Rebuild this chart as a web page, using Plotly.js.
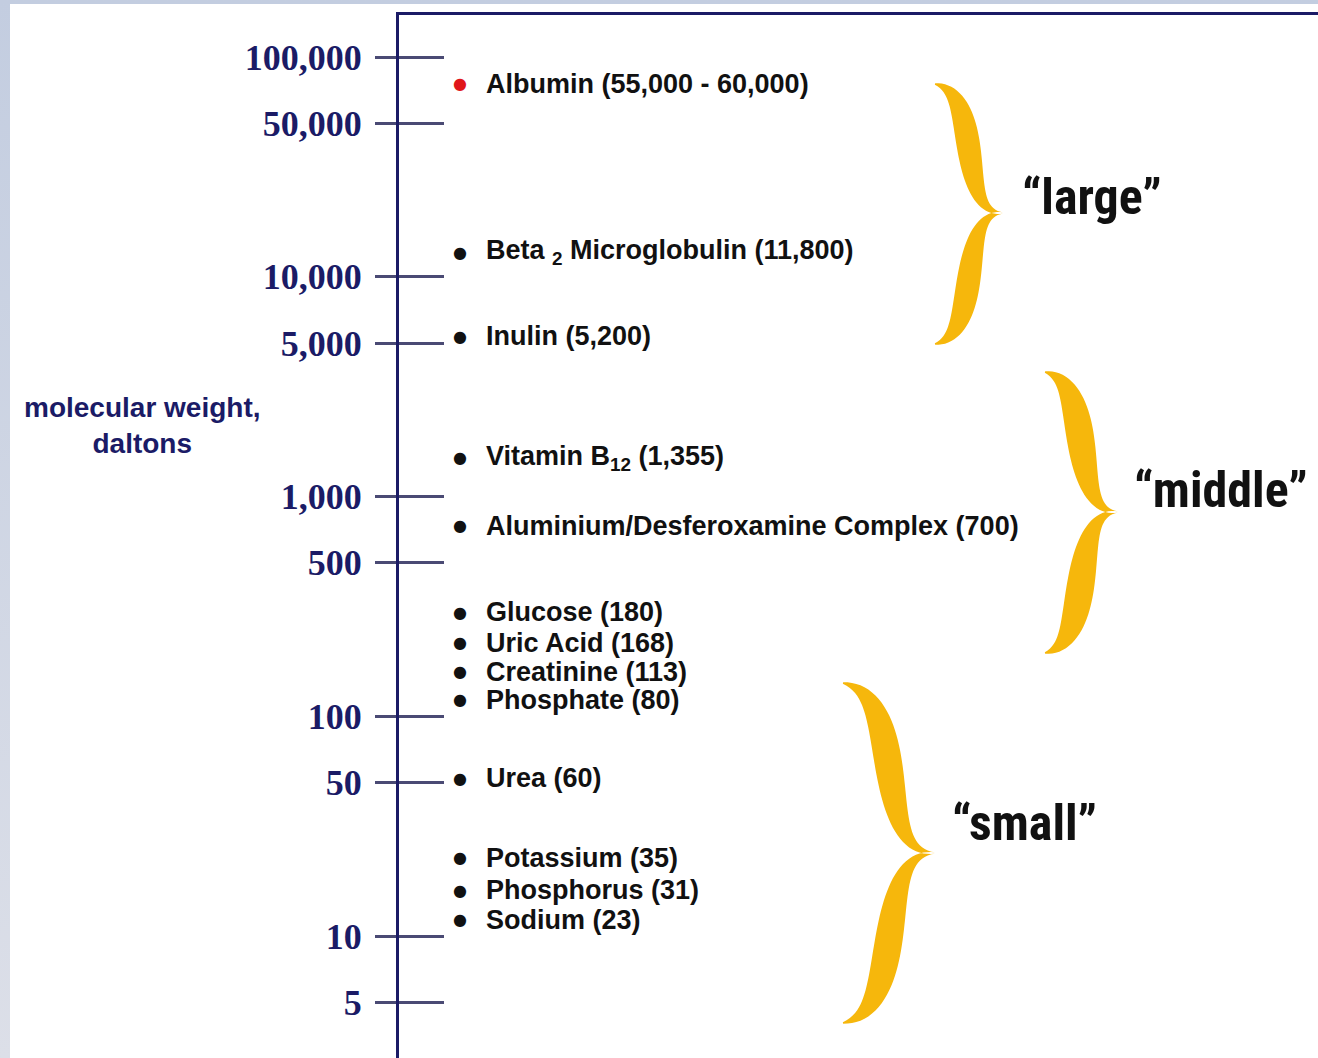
<!DOCTYPE html>
<html>
<head>
<meta charset="utf-8">
<script src="https://cdn.plot.ly/plotly-3.0.1.min.js"></script>
<style>
  html, body { margin:0; padding:0; width:1318px; height:1058px; overflow:hidden;
    background: linear-gradient(#c3cde0, #dcdfe8); }
  #chart { position:absolute; left:10px; top:4px; width:1308px; height:1054px; background:#fff; }
</style>
</head>
<body>
<div id="chart"></div>
<script>
// ---- data ----
const substances = [
  'Albumin (55,000 - 60,000)',
  'Beta <sub>2</sub> Microglobulin (11,800)',
  'Inulin (5,200)',
  'Vitamin B<sub>12</sub> (1,355)',
  'Aluminium/Desferoxamine Complex (700)',
  'Glucose (180)',
  'Uric Acid (168)',
  'Creatinine (113)',
  'Phosphate (80)',
  'Urea (60)',
  'Potassium (35)',
  'Phosphorus (31)',
  'Sodium (23)'
];
const molWeight = [57500, 11800, 5200, 1355, 700, 180, 168, 113, 80, 60, 35, 31, 23];
const tickValues = [5, 10, 50, 100, 500, 1000, 5000, 10000, 50000, 100000];
const tickLabels = ['5', '10', '50', '100', '500', '1,000', '5,000', '10,000', '50,000', '100,000'];
const groupNames = ['\u201Clarge\u201D', '\u201Cmiddle\u201D', '\u201Csmall\u201D'];
const axisTitle = 'molecular weight,<br>daltons';

// ---- style ----
const NAVY = '#1b1b66';
const TICK = '#4a4a74';
const GOLD = '#f6b70c';
const dotColors = ['#e0161a','#111','#111','#111','#111','#111','#111','#111','#111','#111','#111','#111','#111'];
const labelShift = [26, 9, 3, 10, 5, 48, 24, 33, 38, -13, -41, -62, -63]; // px, list spacing as in the slide
const DOT_X = 0.0664, LABEL_X = 0.0925;
const yRange = [0.4467, 5.1911];

// page pixel -> paper helpers for decorations
const PL = 399, PW = 919, PB = 1058, PH = 1043;
const px = x => (x - PL) / PW;
const py = y => (PB - y) / PH;

function bez(p0, p1, p2, p3, t) {
  const u = 1 - t;
  return [u*u*u*p0[0] + 3*u*u*t*p1[0] + 3*u*t*t*p2[0] + t*t*t*p3[0],
          u*u*u*p0[1] + 3*u*u*t*p1[1] + 3*u*t*t*p2[1] + t*t*t*p3[1]];
}
function armPath(p0, p1, p2, p3, tmax) {
  const N = 48, L = [], R = [];
  for (let i = 0; i <= N; i++) {
    const t = i / N;
    const a = bez(p0, p1, p2, p3, Math.max(0, t - 0.001));
    const b = bez(p0, p1, p2, p3, Math.min(1, t + 0.001));
    const p = bez(p0, p1, p2, p3, t);
    let dx = b[0] - a[0], dy = b[1] - a[1];
    const len = Math.hypot(dx, dy) || 1;
    const nx = -dy / len, ny = dx / len;
    const th = 1.5 + tmax * Math.pow(Math.sin(Math.PI * Math.pow(t, 0.85)), 1.2);
    L.push([p[0] + nx * th / 2, p[1] + ny * th / 2]);
    R.push([p[0] - nx * th / 2, p[1] - ny * th / 2]);
  }
  const pts = L.concat(R.reverse());
  return 'M' + pts.map(q => px(q[0]).toFixed(5) + ',' + py(q[1]).toFixed(5)).join('L') + 'Z';
}
function brace(xL, xA, xT, yTop, yM, yBot, tmax) {
  const d = xA - xL;
  const up = armPath([xL, yTop], [xL + 1.5*d, yTop + 0.08*(yM - yTop)], [xA - 0.4*d, yM], [xT, yM], tmax);
  const dn = armPath([xL, yBot], [xL + 1.5*d, yBot - 0.08*(yBot - yM)], [xA - 0.4*d, yM], [xT, yM], tmax);
  return {type:'path', xref:'paper', yref:'paper', path: up + dn,
          fillcolor: GOLD, line:{width:0}, layer:'above'};
}

const shapes = [
  brace(935, 968, 1003, 84, 213, 344, 22),
  brace(1045, 1080, 1118, 372, 512, 653, 26),
  brace(843, 888, 935, 683, 853, 1023, 26)
];

const annotations = [];
substances.forEach((s, i) => {
  const yv = Math.log10(molWeight[i]);
  annotations.push({xref:'x', yref:'y', x: DOT_X, y: yv, yshift: labelShift[i],
    text:'\u25CF', showarrow:false, xanchor:'center', yanchor:'middle',
    font:{family:'DejaVu Sans', size:16, color: dotColors[i]}});
  annotations.push({xref:'x', yref:'y', x: LABEL_X, y: yv, yshift: labelShift[i],
    text: s, showarrow:false, xanchor:'left', yanchor:'middle',
    font:{family:'Liberation Sans, Arial, sans-serif', size:27, color:'#111', weight:'bold'}});
});
const groupPos = [[1020, 197], [1132, 490], [950, 823]];
groupNames.forEach((g, i) => {
  annotations.push({xref:'paper', yref:'paper', x: px(groupPos[i][0]), y: py(groupPos[i][1]),
    text: g, showarrow:false, xanchor:'left', yanchor:'middle',
    font:{family:'Liberation Sans Narrow, Arial Narrow, Roboto Condensed, Liberation Sans, sans-serif', size:50, color:'#111', weight:'bold'}});
});
annotations.push({xref:'paper', yref:'paper', x: px(142), y: py(425), text: axisTitle,
  showarrow:false, xanchor:'center', yanchor:'middle', align:'center',
  font:{family:'Liberation Sans Narrow, Arial Narrow, Liberation Sans, sans-serif', size:28, color: NAVY, weight:'bold'}});

const data = [{type:'scatter', x:[], y:[], yaxis:'y2', showlegend:false, hoverinfo:'skip'}];

const layout = {
  width:1308, height:1054,
  margin:{l:389, r:0, t:11, b:0, pad:0},
  paper_bgcolor:'#fff', plot_bgcolor:'#fff',
  showlegend:false,
  xaxis:{range:[0,1], side:'top', showline:true, linecolor:NAVY, linewidth:3,
    showticklabels:false, ticks:'', showgrid:false, zeroline:false, fixedrange:true},
  yaxis:{type:'log', range:yRange, showline:true, linecolor:NAVY, linewidth:3,
    ticks:'outside', ticklen:21, tickwidth:3, tickcolor:TICK,
    tickvals: tickValues, ticktext: tickLabels, ticklabelstandoff:6,
    tickfont:{family:'Liberation Serif, Times New Roman, serif', size:36, color:NAVY, weight:'bold'},
    showgrid:false, zeroline:false, fixedrange:true},
  yaxis2:{type:'log', range:yRange, overlaying:'y', side:'left', anchor:'x',
    ticks:'inside', ticklen:45, tickwidth:3, tickcolor:TICK, tickvals: tickValues,
    showticklabels:false, showline:false, showgrid:false, zeroline:false, fixedrange:true},
  shapes: shapes,
  annotations: annotations
};

Plotly.newPlot('chart', data, layout, {displayModeBar:false, staticPlot:true});
</script>
</body>
</html>
